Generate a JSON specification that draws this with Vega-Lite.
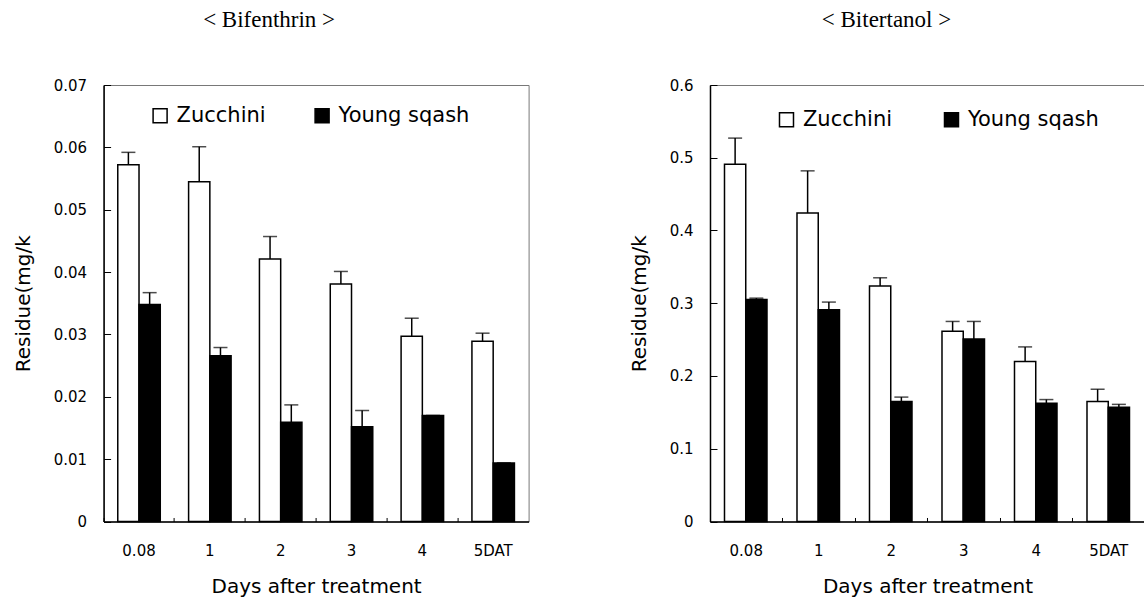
{
  "$schema": "https://vega.github.io/schema/vega-lite/v6.json",
  "padding": {"left": 12.6, "top": 8, "right": 0, "bottom": 0},
  "background": "white",
  "bounds": "flush",
  "spacing": 181.4,
  "resolve": {"scale": {"fill": "independent"}, "legend": {"fill": "independent"}},
  "datasets": {
    "bif": [
      {"day": "0.08", "crop": "Zucchini", "value": 0.0572, "upper": 0.0592},
      {"day": "0.08", "crop": "Young sqash", "value": 0.0348, "upper": 0.0367},
      {"day": "1", "crop": "Zucchini", "value": 0.0545, "upper": 0.0601},
      {"day": "1", "crop": "Young sqash", "value": 0.0266, "upper": 0.0279},
      {"day": "2", "crop": "Zucchini", "value": 0.0421, "upper": 0.0457},
      {"day": "2", "crop": "Young sqash", "value": 0.0159, "upper": 0.0187},
      {"day": "3", "crop": "Zucchini", "value": 0.0381, "upper": 0.0401},
      {"day": "3", "crop": "Young sqash", "value": 0.0152, "upper": 0.0178},
      {"day": "4", "crop": "Zucchini", "value": 0.0297, "upper": 0.0326},
      {"day": "4", "crop": "Young sqash", "value": 0.0170, "upper": 0.0170},
      {"day": "5DAT", "crop": "Zucchini", "value": 0.0289, "upper": 0.0302},
      {"day": "5DAT", "crop": "Young sqash", "value": 0.0094, "upper": 0.0094}
    ],
    "bit": [
      {"day": "0.08", "crop": "Zucchini", "value": 0.491, "upper": 0.527},
      {"day": "0.08", "crop": "Young sqash", "value": 0.305, "upper": 0.307},
      {"day": "1", "crop": "Zucchini", "value": 0.424, "upper": 0.482},
      {"day": "1", "crop": "Young sqash", "value": 0.291, "upper": 0.3016},
      {"day": "2", "crop": "Zucchini", "value": 0.3236, "upper": 0.335},
      {"day": "2", "crop": "Young sqash", "value": 0.165, "upper": 0.171},
      {"day": "3", "crop": "Zucchini", "value": 0.2616, "upper": 0.275},
      {"day": "3", "crop": "Young sqash", "value": 0.251, "upper": 0.275},
      {"day": "4", "crop": "Zucchini", "value": 0.220, "upper": 0.240},
      {"day": "4", "crop": "Young sqash", "value": 0.1625, "upper": 0.1676},
      {"day": "5DAT", "crop": "Zucchini", "value": 0.1648, "upper": 0.1818},
      {"day": "5DAT", "crop": "Young sqash", "value": 0.157, "upper": 0.161}
    ]
  },
  "hconcat": [
    {
      "width": 425,
      "height": 436.5,
      "title": {"text": "< Bifenthrin >", "font": "Liberation Serif", "fontSize": 23, "fontWeight": "normal", "color": "black", "dx": -47, "offset": 28, "baseline": "alphabetic"},
      "data": {"name": "bif"},
      "layer": [
        {
          "mark": {"type": "bar", "stroke": "black", "strokeWidth": 1.5},
          "encoding": {
            "x": {"field": "day", "type": "nominal", "sort": ["0.08", "1", "2", "3", "4", "5DAT"], "scale": {"paddingInner": 0.4, "paddingOuter": 0.2},
              "axis": {"title": "Days after treatment", "labelAngle": 0, "ticks": false, "domain": true, "labelPadding": 22, "titlePadding": 18}},
            "xOffset": {"field": "crop", "type": "nominal", "sort": ["Zucchini", "Young sqash"], "scale": {"paddingInner": 0, "paddingOuter": 0}},
            "y": {"field": "value", "type": "quantitative", "title": "Residue(mg/k", "scale": {"domain": [0, 0.07], "nice": false, "zero": true},
              "axis": {"values": [0, 0.01, 0.02, 0.03, 0.04, 0.05, 0.06, 0.07], "format": ".2~f", "tickSize": -7, "labelPadding": 24, "titlePadding": 20}},
            "fill": {"field": "crop", "type": "nominal", "sort": ["Zucchini", "Young sqash"], "scale": {"domain": ["Zucchini", "Young sqash"], "range": ["white", "black"]},
              "legend": {"title": null, "orient": "none", "legendX": 46, "legendY": 20, "direction": "horizontal", "symbolType": "square", "symbolSize": 196, "symbolStrokeColor": "black", "symbolStrokeWidth": 1.5, "labelFont": "DejaVu Sans", "labelFontSize": 21, "labelColor": "black", "labelOffset": 6, "columnPadding": 45, "padding": 0}}
          }
        },
        {
          "mark": {"type": "rule", "strokeWidth": 1.5, "color": "black"},
          "encoding": {
            "x": {"field": "day", "type": "nominal", "sort": ["0.08", "1", "2", "3", "4", "5DAT"],
              "axis": {"orient": "bottom", "labels": false, "domain": false, "title": null, "ticks": true, "tickSize": -4, "tickWidth": 1, "bandPosition": -0.3333}},
            "xOffset": {"field": "crop", "type": "nominal", "sort": ["Zucchini", "Young sqash"]},
            "y": {"field": "value", "type": "quantitative", "title": "Residue(mg/k"},
            "y2": {"field": "upper"}
          }
        },
        {
          "mark": {"type": "tick", "orient": "horizontal", "size": 14, "thickness": 1.5, "color": "black"},
          "encoding": {
            "x": {"field": "day", "type": "nominal", "sort": ["0.08", "1", "2", "3", "4", "5DAT"], "axis": null},
            "xOffset": {"field": "crop", "type": "nominal", "sort": ["Zucchini", "Young sqash"]},
            "y": {"field": "upper", "type": "quantitative", "title": "Residue(mg/k"}
          }
        }
      ],
      "resolve": {"axis": {"x": "independent"}}
    },
    {
      "width": 435,
      "height": 436.5,
      "title": {"text": "< Bitertanol >", "font": "Liberation Serif", "fontSize": 23, "fontWeight": "normal", "color": "black", "dx": -41, "offset": 28, "baseline": "alphabetic"},
      "data": {"name": "bit"},
      "layer": [
        {
          "mark": {"type": "bar", "stroke": "black", "strokeWidth": 1.5},
          "encoding": {
            "x": {"field": "day", "type": "nominal", "sort": ["0.08", "1", "2", "3", "4", "5DAT"], "scale": {"paddingInner": 0.4, "paddingOuter": 0.2},
              "axis": {"title": "Days after treatment", "labelAngle": 0, "ticks": false, "domain": true, "labelPadding": 22, "titlePadding": 18}},
            "xOffset": {"field": "crop", "type": "nominal", "sort": ["Zucchini", "Young sqash"], "scale": {"paddingInner": 0, "paddingOuter": 0}},
            "y": {"field": "value", "type": "quantitative", "title": "Residue(mg/k", "scale": {"domain": [0, 0.6], "nice": false, "zero": true},
              "axis": {"values": [0, 0.1, 0.2, 0.3, 0.4, 0.5, 0.6], "format": ".1~f", "tickSize": -7, "labelPadding": 24, "titlePadding": 20}},
            "fill": {"field": "crop", "type": "nominal", "sort": ["Zucchini", "Young sqash"], "scale": {"domain": ["Zucchini", "Young sqash"], "range": ["white", "black"]},
              "legend": {"title": null, "orient": "none", "legendX": 66, "legendY": 24, "direction": "horizontal", "symbolType": "square", "symbolSize": 196, "symbolStrokeColor": "black", "symbolStrokeWidth": 1.5, "labelFont": "DejaVu Sans", "labelFontSize": 21, "labelColor": "black", "labelOffset": 6, "columnPadding": 48, "padding": 0}}
          }
        },
        {
          "mark": {"type": "rule", "strokeWidth": 1.5, "color": "black"},
          "encoding": {
            "x": {"field": "day", "type": "nominal", "sort": ["0.08", "1", "2", "3", "4", "5DAT"],
              "axis": {"orient": "bottom", "labels": false, "domain": false, "title": null, "ticks": true, "tickSize": -4, "tickWidth": 1, "bandPosition": -0.3333}},
            "xOffset": {"field": "crop", "type": "nominal", "sort": ["Zucchini", "Young sqash"]},
            "y": {"field": "value", "type": "quantitative", "title": "Residue(mg/k"},
            "y2": {"field": "upper"}
          }
        },
        {
          "mark": {"type": "tick", "orient": "horizontal", "size": 14, "thickness": 1.5, "color": "black"},
          "encoding": {
            "x": {"field": "day", "type": "nominal", "sort": ["0.08", "1", "2", "3", "4", "5DAT"], "axis": null},
            "xOffset": {"field": "crop", "type": "nominal", "sort": ["Zucchini", "Young sqash"]},
            "y": {"field": "upper", "type": "quantitative", "title": "Residue(mg/k"}
          }
        }
      ],
      "resolve": {"axis": {"x": "independent"}}
    }
  ],
  "config": {
    "font": "DejaVu Sans",
    "view": {"stroke": "#777", "strokeWidth": 1},
    "axis": {"labelFont": "DejaVu Sans", "labelFontSize": 15, "labelColor": "black", "titleFont": "DejaVu Sans", "titleFontSize": 20, "titleFontWeight": "normal", "titleColor": "black", "domainColor": "black", "domainWidth": 1.5, "tickColor": "black", "grid": false}
  }
}
